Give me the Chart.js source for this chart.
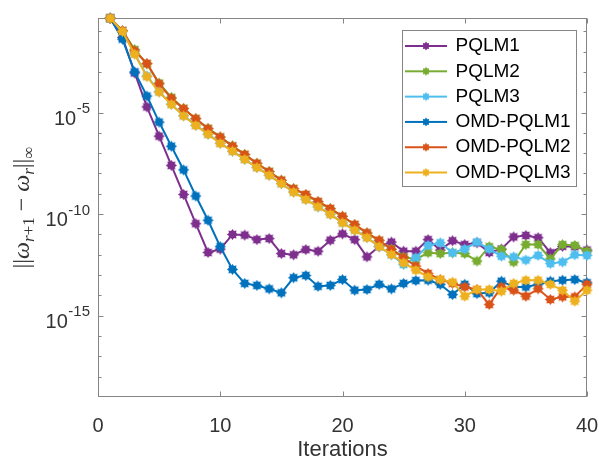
<!DOCTYPE html>
<html><head><meta charset="utf-8">
<script src="https://cdn.jsdelivr.net/npm/chart.js@4.4.1/dist/chart.umd.min.js"></script>
<style>html,body{margin:0;padding:0;background:#fff;overflow:hidden}</style>
</head><body>
<canvas id="c" width="599" height="457"></canvas>
<script>
const iterations = [1,2,3,4,5,6,7,8,9,10,11,12,13,14,15,16,17,18,19,20,21,22,23,24,25,26,27,28,29,30,31,32,33,34,35,36,37,38,39,40];
const seriesNames = ['PQLM1','PQLM2','PQLM3','OMD-PQLM1','OMD-PQLM2','OMD-PQLM3'];
const pqlm1 = [4.4e-1,5.0e-2,8.9e-4,1.9e-5,6.9e-7,2.5e-8,9.3e-10,3.4e-11,1.3e-12,1.9e-12,1.0e-11,9.3e-12,5.6e-12,6.3e-12,1.15e-12,1.0e-12,1.8e-12,1.5e-12,5.2e-12,1.07e-11,5.6e-12,7.9e-13,2.6e-12,4.2e-12,1.5e-12,1.5e-12,5.6e-12,1.7e-12,4.9e-12,3.2e-12,3.9e-12,1.3e-12,1.9e-12,7.6e-12,8.9e-12,6.9e-12,1.26e-12,2.6e-12,2.5e-12,1.7e-12];
const pqlm2 = [4.4e-1,1.05e-1,1.26e-2,2.5e-3,2.8e-4,5.6e-5,1.6e-5,5.0e-6,1.66e-6,6.3e-7,2.3e-7,8.7e-8,3.16e-8,1.26e-8,4.7e-9,1.8e-9,8.9e-10,4.0e-10,1.8e-10,7.6e-11,3.0e-11,1.17e-11,5.0e-12,1.9e-12,7.9e-13,5.9e-13,1.26e-12,1.15e-12,1.26e-12,1.15e-12,4.9e-13,2.5e-12,1.8e-12,4.4e-13,3.2e-12,3.2e-12,6.3e-13,3.2e-12,2.9e-12,1.5e-12];
const pqlm3 = [4.4e-1,1.0e-1,7.9e-3,6.3e-4,1.07e-4,2.6e-5,7.1e-6,2.4e-6,8.7e-7,3.16e-7,1.26e-7,5.0e-8,2.0e-8,8.3e-9,3.2e-9,1.26e-9,5.4e-10,2.3e-10,1.0e-10,3.8e-11,1.66e-11,7.1e-12,2.5e-12,1.0e-12,3.3e-13,7.1e-13,2.9e-12,3.9e-12,1.26e-12,1.9e-12,4.2e-12,1.9e-12,8.5e-13,7.9e-13,5.5e-13,9.3e-13,3.7e-13,4.4e-13,1.0e-12,9.3e-13];
const omdPqlm1 = [4.4e-1,4.1e-2,1.0e-3,6.5e-5,3.4e-6,2.2e-7,1.5e-8,7.8e-10,5.0e-11,2.5e-12,1.9e-13,3.9e-14,3.1e-14,2.1e-14,1.35e-14,7.4e-14,9.5e-14,2.8e-14,3.1e-14,6.0e-14,1.8e-14,1.95e-14,3.5e-14,2.1e-14,3.9e-14,5.4e-14,5.6e-14,3.5e-14,1.1e-14,3.5e-14,1.23e-14,1.35e-14,5.0e-14,2.6e-14,2.6e-14,3.5e-14,5.0e-14,5.6e-14,6.0e-14,4.2e-14];
const omdPqlm2 = [4.4e-1,1.07e-1,1.07e-2,2.6e-3,2.6e-4,5.0e-5,1.55e-5,5.0e-6,1.6e-6,6.2e-7,2.2e-7,8.5e-8,3.16e-8,1.23e-8,4.6e-9,1.78e-9,9.3e-10,4.2e-10,1.9e-10,7.9e-11,3.1e-11,1.2e-11,5.2e-12,1.8e-12,7.1e-13,2.75e-13,1.2e-13,6.0e-14,3.9e-14,2.6e-14,1.95e-14,3.55e-15,2.6e-14,1.8e-14,9.1e-15,2.1e-14,6.3e-15,8.5e-15,8.5e-15,3.5e-14];
const omdPqlm3 = [4.4e-1,9.8e-2,7.4e-3,5.9e-4,1.02e-4,2.5e-5,6.8e-6,2.3e-6,8.5e-7,3.0e-7,1.26e-7,4.9e-8,1.95e-8,8.1e-9,3.16e-9,1.2e-9,5.2e-10,2.3e-10,9.8e-11,3.7e-11,1.6e-11,6.9e-12,2.5e-12,1.02e-12,4.0e-13,1.74e-13,8.1e-14,6.0e-14,4.5e-14,9.1e-15,1.95e-14,1.95e-14,1.6e-14,3.9e-14,5.6e-14,5.6e-14,3.5e-14,1.8e-14,5.2e-15,1.8e-14];
const seriesValues = [pqlm1, pqlm2, pqlm3, omdPqlm1, omdPqlm2, omdPqlm3];
const xTickValues = [0,10,20,30,40];
const yTickValues = [1e-15,1e-10,1e-5];
const yTickBase = '10';
const yTickExponents = ['-15','-10','-5'];
const yDecadeTicks = [1e-18,1e-17,1e-16,1e-15,1e-14,1e-13,1e-12,1e-11,1e-10,1e-9,1e-8,1e-7,1e-6,1e-5,1e-4,1e-3,1e-2,1e-1];
const xTitle = 'Iterations';
// y-axis title ||ω_{r+1} − ω_r||_∞ as pieces: [text, italic, subscript]
const yTitleParts = [['||',0,0],['ω',1,0],['r',1,1],['+1',0,1],[' − ',0,0],['ω',1,0],['r',1,1],['||',0,0],['∞',0,1]];

const colors = ['#7E2F8E','#77AC30','#4DBEEE','#0072BD','#D95319','#EDB120'];
const SANS = 'Liberation Sans, Arial, sans-serif';
const SERIF = 'Liberation Serif, DejaVu Serif, serif';

function starPath(g, cx, cy, ro, ri, n) {
  g.beginPath();
  for (let k = 0; k < 2*n; k++) {
    const r = k % 2 ? ri : ro;
    const a = Math.PI * k / n - Math.PI / 2;
    g.lineTo(cx + r*Math.cos(a), cy + r*Math.sin(a));
  }
  g.closePath();
}
function makeStar(color) {
  const c = document.createElement('canvas'); c.width = 13; c.height = 13;
  const g = c.getContext('2d'); g.fillStyle = color;
  starPath(g, 6.5, 6.5, 5.6, 3.9, 8); g.fill();
  return c;
}
function makeLegendIcon(color) {
  const c = document.createElement('canvas'); c.width = 44; c.height = 12;
  const g = c.getContext('2d');
  g.strokeStyle = color; g.lineWidth = 2;
  g.beginPath(); g.moveTo(1, 6); g.lineTo(43, 6); g.stroke();
  g.fillStyle = color; starPath(g, 22, 6, 4.4, 3.0, 8); g.fill();
  return c;
}
const markers = colors.map(makeStar);
const legendIcons = colors.map(makeLegendIcon);

const datasets = seriesNames.map((name, i) => ({
  label: name,
  data: iterations.map((it, k) => ({x: it, y: seriesValues[i][k]})),
  borderColor: colors[i],
  backgroundColor: colors[i],
  borderWidth: 2,
  pointStyle: markers[i],
  pointRadius: 5,
  tension: 0,
  clip: false,
  order: seriesNames.length - i
}));

const framePlugin = {
  id: 'frame',
  beforeDatasetsDraw(chart) {
    const {ctx, chartArea: a, scales: {x, y}} = chart;
    ctx.save();
    ctx.strokeStyle = '#858585'; ctx.lineWidth = 1;
    const L = Math.round(a.left) + 0.5, R = Math.round(a.right) - 0.5, T = Math.round(a.top) + 0.5, B = Math.round(a.bottom) - 0.5;
    ctx.strokeRect(L, T, R - L, B - T);
    ctx.beginPath();
    for (const v of xTickValues) {
      const px = Math.round(x.getPixelForValue(v)) + 0.5;
      ctx.moveTo(px, B); ctx.lineTo(px, B - 5);
      ctx.moveTo(px, T); ctx.lineTo(px, T + 5);
    }
    for (const v of yDecadeTicks) {
      const py = Math.round(y.getPixelForValue(v)) + 0.5;
      const len = yTickValues.includes(v) ? 5 : 3;
      ctx.moveTo(L, py); ctx.lineTo(L + len, py);
      ctx.moveTo(R, py); ctx.lineTo(R - len, py);
    }
    ctx.stroke();

    // y tick labels: base with superscript exponent
    ctx.fillStyle = '#333';
    ctx.textBaseline = 'alphabetic';
    ctx.textAlign = 'right';
    yTickValues.forEach((v, k) => {
      const py = y.getPixelForValue(v);
      const xr = a.left - 8;
      ctx.font = '15px ' + SANS;
      ctx.fillText(yTickExponents[k], xr, py + 0.5);
      const ew = ctx.measureText(yTickExponents[k]).width;
      ctx.font = '20px ' + SANS;
      ctx.fillText(yTickBase, xr - ew - 0.5, py + 12);
    });

    // y axis title with subscripts, rotated
    ctx.save();
    ctx.textAlign = 'left';
    const fontFor = (p) => (p[1] ? 'italic ' : '') + (p[2] ? '17px ' : '24px ') + SERIF;
    let total = 0;
    for (const p of yTitleParts) { ctx.font = fontFor(p); total += ctx.measureText(p[0]).width; }
    ctx.translate(29, (a.top + a.bottom) / 2);
    ctx.rotate(-Math.PI / 2);
    let cx = -total / 2;
    for (const p of yTitleParts) {
      ctx.font = fontFor(p);
      ctx.fillText(p[0], cx, p[2] ? 5 : 0);
      cx += ctx.measureText(p[0]).width;
    }
    ctx.restore();
    ctx.restore();
  }
};

const legendPlace = {
  id: 'legendPlace',
  afterLayout(chart) {
    const lg = chart.legend; if (!lg) return;
    const a = chart.chartArea;
    const pad = lg.options.labels.padding;
    lg.left = a.left + 308 - pad;
    lg.top = a.top + 18.5 - pad;
  },
  afterDraw(chart) {
    const lg = chart.legend; if (!lg || !lg.legendHitBoxes || !lg.legendHitBoxes.length) return;
    const hb = lg.legendHitBoxes;
    const first = hb[0], last = hb[hb.length - 1];
    let right = 0;
    for (const h of hb) right = Math.max(right, h.left + h.width);
    const ctx = chart.ctx;
    ctx.save();
    ctx.strokeStyle = '#858585'; ctx.lineWidth = 1;
    const x0 = Math.round(first.left - 4.5) + 0.5, y0 = Math.round(first.top - 7) + 0.5;
    const x1 = Math.round(right + 5) + 0.5, y1 = Math.round(last.top + last.height + 3.5) + 0.5;
    ctx.strokeRect(x0, y0, x1 - x0, y1 - y0);
    ctx.restore();
  }
};

new Chart(document.getElementById('c'), {
  type: 'line',
  data: { datasets },
  options: {
    responsive: false,
    animation: false,
    devicePixelRatio: 1,
    layout: { padding: { top: 18, right: 12, bottom: 0, left: 0 } },
    plugins: {
      tooltip: { enabled: false },
      legend: {
        position: 'chartArea',
        align: 'start',
        labels: {
          usePointStyle: true,
          pointStyleWidth: 40,
          padding: 6.3,
          color: '#000',
          font: { family: SANS, size: 19, lineHeight: 1 },
          generateLabels(chart) {
            const items = Chart.defaults.plugins.legend.labels.generateLabels(chart);
            items.sort((p, q) => p.datasetIndex - q.datasetIndex);
            items.forEach(it => { it.pointStyle = legendIcons[it.datasetIndex]; it.lineWidth = 0; });
            return items;
          }
        }
      }
    },
    scales: {
      x: {
        type: 'linear', min: 0, max: 40,
        grid: { display: false }, border: { display: false },
        afterBuildTicks(s) { s.ticks = xTickValues.map(v => ({ value: v })); },
        afterFit(s) { s.height = 60; s.paddingLeft = 0; s.paddingRight = 0; },
        ticks: { color: '#333', padding: 9, maxRotation: 0, font: { family: SANS, size: 20 } },
        title: { display: true, text: xTitle, color: '#333', padding: { top: 0, bottom: -6 }, font: { family: SANS, size: 22 } }
      },
      y: {
        type: 'logarithmic', min: 1e-19, max: 0.45,
        grid: { display: false }, border: { display: false },
        afterBuildTicks(s) { s.ticks = yTickValues.map(v => ({ value: v })); },
        afterFit(s) { s.width = 98; s.paddingTop = 0; s.paddingBottom = 0; },
        ticks: { display: false },
        title: { display: false }
      }
    }
  },
  plugins: [framePlugin, legendPlace]
});
</script>
</body></html>
